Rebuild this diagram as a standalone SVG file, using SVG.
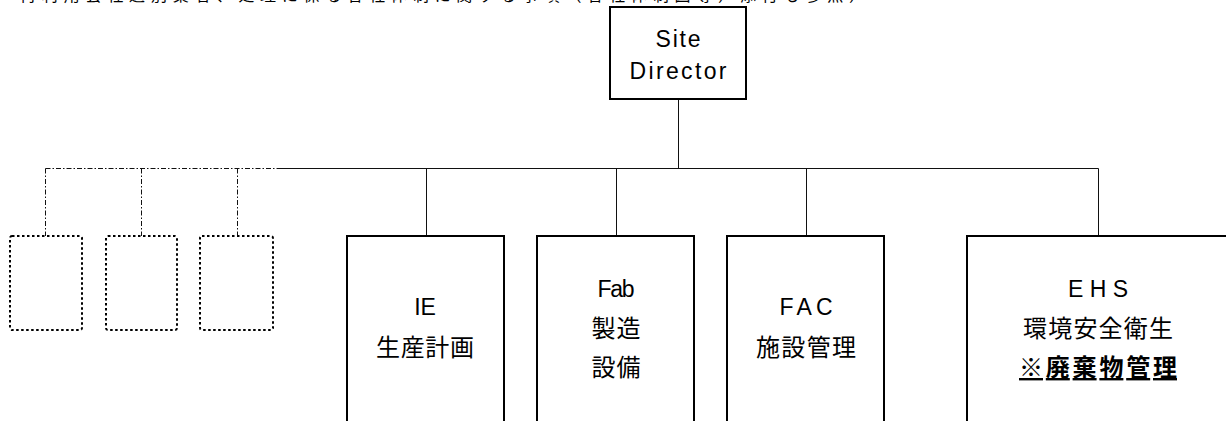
<svg xmlns="http://www.w3.org/2000/svg" width="1226" height="421" viewBox="0 0 1226 421">
<style>
text{font-family:"Liberation Sans","Noto Sans CJK JP",sans-serif;fill:#000;text-anchor:middle}
.box{fill:#fff;stroke:#000;stroke-width:2}
.dot{fill:#fff;stroke:#000;stroke-width:2;stroke-dasharray:2.5 2.5}
.ln{stroke:#111;stroke-width:1;fill:none}
.dd{stroke:#111;stroke-width:1;fill:none;stroke-dasharray:5 2 1.5 2}
.t{font-size:23px}
.j{font-size:24px}
</style>
<rect width="1226" height="421" fill="#fff"/>
<text x="20" y="1" style="font-size:16px;text-anchor:start" textLength="845" lengthAdjust="spacing">再利用会社選別業者、処理に係る各社体制に関する事項（各社体制図等）添付も参照）</text>
<g id="connectors">
<line class="ln" x1="678.5" y1="99" x2="678.5" y2="168.5"/>
<line class="ln" x1="278" y1="168.5" x2="1098.5" y2="168.5"/>
<line class="dd" x1="45.5" y1="168.5" x2="278" y2="168.5"/>
<line class="dd" x1="45.5" y1="168.5" x2="45.5" y2="236"/>
<line class="dd" x1="141.5" y1="168.5" x2="141.5" y2="236"/>
<line class="dd" x1="237.5" y1="168.5" x2="237.5" y2="236"/>
<line class="ln" x1="426.5" y1="168.5" x2="426.5" y2="236"/>
<line class="ln" x1="616.5" y1="168.5" x2="616.5" y2="236"/>
<line class="ln" x1="806.5" y1="168.5" x2="806.5" y2="236"/>
<line class="ln" x1="1098.5" y1="168.5" x2="1098.5" y2="236"/>
</g>
<g id="site-director">
<rect class="box" x="610" y="7" width="136" height="92"/>
<text class="t" x="678" y="47" textLength="45" lengthAdjust="spacing">Site</text>
<text class="t" x="678" y="79" textLength="97" lengthAdjust="spacing">Director</text>
</g>
<g id="blank1"><rect class="dot" x="10" y="236" width="72" height="94" rx="2"/></g>
<g id="blank2"><rect class="dot" x="106" y="236" width="71" height="94" rx="2"/></g>
<g id="blank3"><rect class="dot" x="200" y="236" width="73" height="94" rx="2"/></g>
<g id="ie">
<rect class="box" x="347" y="236" width="157" height="210"/>
<text class="t" x="425" y="315">IE</text>
<text class="j" x="425" y="356" textLength="98" lengthAdjust="spacing">生産計画</text>
</g>
<g id="fab">
<rect class="box" x="537" y="236" width="157" height="210"/>
<text class="t" x="616" y="297" textLength="37" lengthAdjust="spacing">Fab</text>
<text class="j" x="616" y="337" textLength="49" lengthAdjust="spacing">製造</text>
<text class="j" x="616" y="376" textLength="49" lengthAdjust="spacing">設備</text>
</g>
<g id="fac">
<rect class="box" x="727" y="236" width="157" height="210"/>
<text class="t" x="806" y="315" textLength="53" lengthAdjust="spacing">FAC</text>
<text class="j" x="806" y="356" textLength="100" lengthAdjust="spacing">施設管理</text>
</g>
<g id="ehs">
<rect class="box" x="967" y="236" width="262" height="210"/>
<text class="t" x="1098" y="297" textLength="60" lengthAdjust="spacing">EHS</text>
<text class="j" x="1098" y="337" textLength="150" lengthAdjust="spacing">環境安全衛生</text>
<text class="j" x="1098" y="376" style="font-weight:bold;text-decoration:underline" textLength="158" lengthAdjust="spacing">※廃棄物管理</text>
</g>
</svg>
